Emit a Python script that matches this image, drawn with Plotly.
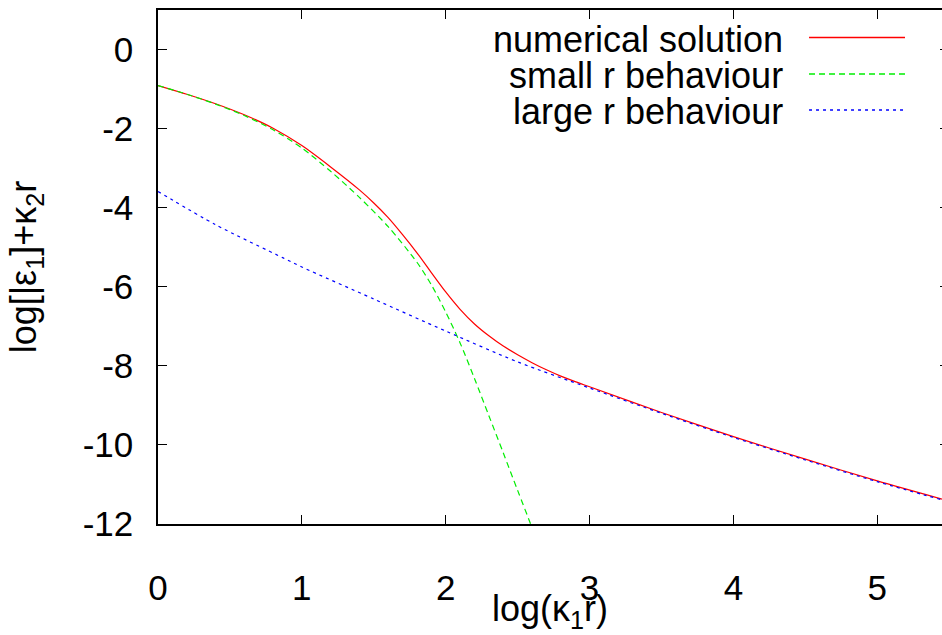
import plotly.graph_objects as go

# log(kappa_1 r) sample points and the three curves
x_num = [0.0, 0.2, 0.4, 0.6, 0.8, 1.0, 1.2, 1.4, 1.5, 1.6, 1.7, 1.8, 1.9, 2.0,
         2.1, 2.2, 2.3, 2.4, 2.5, 2.6, 2.7, 2.8, 2.9, 3.0, 3.5, 4.0, 4.5, 5.0, 5.45]
y_num = [-0.91, -1.13, -1.37, -1.65, -1.99, -2.43, -2.97, -3.55, -3.88, -4.25,
         -4.68, -5.14, -5.64, -6.13, -6.57, -6.94, -7.24, -7.50, -7.72, -7.92,
         -8.10, -8.26, -8.40, -8.53, -9.18, -9.79, -10.36, -10.91, -11.37]

x_small = [0.0, 0.2, 0.4, 0.6, 0.8, 1.0, 1.2, 1.4, 1.6, 1.8, 1.9, 2.0, 2.1,
           2.2, 2.3, 2.4, 2.5, 2.59, 2.62]
y_small = [-0.91, -1.13, -1.38, -1.67, -2.03, -2.49, -3.08, -3.74, -4.48, -5.38,
           -5.95, -6.64, -7.42, -8.32, -9.26, -10.2, -11.15, -12.0, -12.3]

x_large = [0.0, 0.4, 0.87, 1.0, 1.5, 2.0, 2.5, 3.0, 3.5, 4.0, 4.5, 5.0, 5.45]
y_large = [-3.59, -4.43, -5.27, -5.5, -6.31, -7.12, -7.9, -8.56, -9.2, -9.81,
           -10.38, -10.93, -11.39]

series_names = ["numerical solution", "small r behaviour", "large r behaviour"]
series_colors = ["#ff0000", "#00ee00", "#0000ff"]
series_dash = ["solid", "6px,4px", "3px,4px"]

x_ticks = [0, 1, 2, 3, 4, 5]
y_ticks = [0, -2, -4, -6, -8, -10, -12]
y_tick_text = ["0", "-2", "-4", "-6", "-8", "-10", "-12"]

FONT = "Liberation Sans, Arial, Helvetica, sans-serif"
FS_TEXT = 36
FS_TICK = 35

fig = go.Figure()
for xs, ys, name, col, dash in zip([x_num, x_small, x_large],
                                   [y_num, y_small, y_large],
                                   series_names, series_colors, series_dash):
    fig.add_trace(go.Scatter(x=xs, y=ys, mode="lines", name=name,
                             line=dict(color=col, width=1.2, dash=dash,
                                       shape="spline", smoothing=0.8),
                             showlegend=False, hoverinfo="skip"))

# invisible trace so the right-hand tick axis is drawn
fig.add_trace(go.Scatter(x=[None], y=[None], yaxis="y2", showlegend=False,
                         hoverinfo="skip"))

# key drawn as text followed by a sample line
row_y = [0.9455, 0.8745, 0.8045]
for name, col, dash, yy in zip(series_names, series_colors, series_dash, row_y):
    fig.add_annotation(x=0.7997, y=yy - 0.002, xref="paper", yref="paper",
                       text=name, showarrow=False, xanchor="right",
                       yanchor="middle",
                       font=dict(family=FONT, size=FS_TEXT, color="black"))
    fig.add_shape(type="line", xref="paper", yref="paper",
                  x0=0.8304, x1=0.9528, y0=yy + 0.001, y1=yy + 0.001,
                  line=dict(color=col, width=1.4, dash=dash))

fig.add_annotation(x=0.5, y=-0.17, xref="paper", yref="paper",
                   text="log(κ<sub>1</sub>r)", showarrow=False,
                   xanchor="center", yanchor="middle",
                   font=dict(family=FONT, size=FS_TEXT, color="black"))
fig.add_annotation(x=-0.168, y=0.5, xref="paper", yref="paper",
                   text="log[|ε<sub>1</sub>]+κ<sub>2</sub>r", showarrow=False,
                   textangle=-90, xanchor="center", yanchor="middle",
                   font=dict(family=FONT, size=FS_TEXT, color="black"))

axis_common = dict(showgrid=False, zeroline=False, showline=True,
                   linecolor="black", linewidth=1.5, ticks="inside",
                   ticklen=9, tickwidth=1.2, tickcolor="black",
                   tickfont=dict(family=FONT, size=FS_TICK, color="black"))

fig.update_layout(
    width=942, height=635,
    margin=dict(l=158, r=0, t=10, b=111),
    plot_bgcolor="white", paper_bgcolor="white",
    xaxis=dict(range=[0, 5.45], tickvals=x_ticks, mirror="ticks",
               ticklabelstandoff=32, **axis_common),
    yaxis=dict(range=[-12, 1], tickvals=y_ticks, ticktext=y_tick_text,
               mirror=False, ticklabelstandoff=16, **axis_common),
    yaxis2=dict(range=[-12, 1], tickvals=y_ticks, overlaying="y", side="right",
                showline=False, showgrid=False, zeroline=False,
                ticks="inside", ticklen=2, tickcolor="black",
                showticklabels=False),
    showlegend=False,
)

fig.write_html("out.html")
